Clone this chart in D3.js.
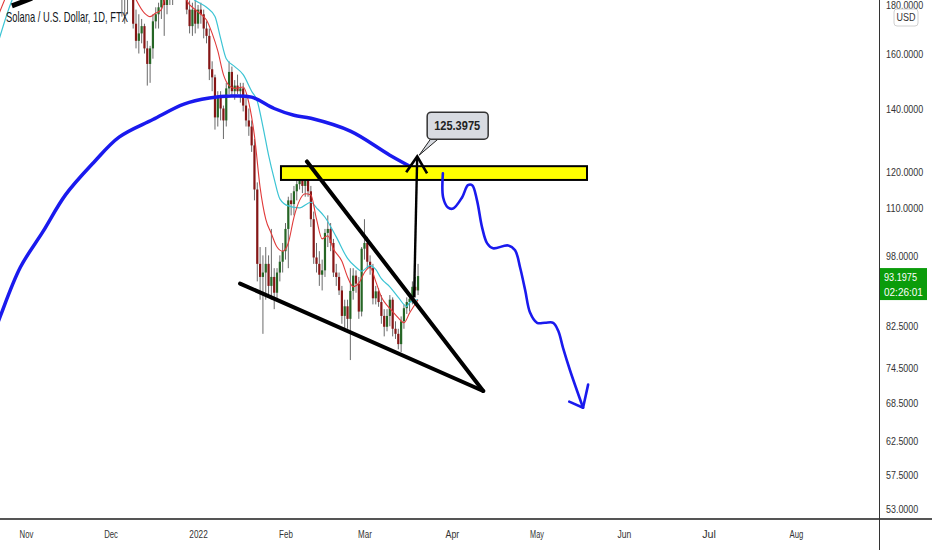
<!DOCTYPE html>
<html><head><meta charset="utf-8">
<script src="https://cdn.jsdelivr.net/npm/d3@7"></script>
<style>
html,body{margin:0;padding:0;background:#fff;}
svg{display:block;}
</style></head><body>
<svg id="c" width="932" height="550"></svg>
<script>
// ---------- DATA ----------
const title = "Solana / U.S. Dollar, 1D, FTX";
const currency = "USD";
const lastPrice = 93.1975;
const countdown = "02:26:01";
const priceTicks = [180, 160, 140, 120, 110, 98, 82.5, 74.5, 68.5, 62.5, 57.5, 53];
const monthTicks = ["2021-11-01","2021-12-01","2022-01-01","2022-02-01","2022-03-01","2022-04-01","2022-05-01","2022-06-01","2022-07-01","2022-08-01"];
const monthLabels = ["Nov","Dec","2022","Feb","Mar","Apr","May","Jun","Jul","Aug"];

const candleDates = [
"2021-12-01","2021-12-02","2021-12-03","2021-12-04","2021-12-05","2021-12-06","2021-12-07","2021-12-08","2021-12-09","2021-12-10",
"2021-12-11","2021-12-12","2021-12-13","2021-12-14","2021-12-15","2021-12-16","2021-12-17","2021-12-18","2021-12-19","2021-12-20",
"2021-12-21","2021-12-22","2021-12-23","2021-12-24","2021-12-25","2021-12-26","2021-12-27","2021-12-28","2021-12-29","2021-12-30",
"2021-12-31","2022-01-01","2022-01-02","2022-01-03","2022-01-04","2022-01-05","2022-01-06","2022-01-07","2022-01-08","2022-01-09",
"2022-01-10","2022-01-11","2022-01-12","2022-01-13","2022-01-14","2022-01-15","2022-01-16","2022-01-17","2022-01-18","2022-01-19",
"2022-01-20","2022-01-21","2022-01-22","2022-01-23","2022-01-24","2022-01-25","2022-01-26","2022-01-27","2022-01-28","2022-01-29",
"2022-01-30","2022-01-31","2022-02-01","2022-02-02","2022-02-03","2022-02-04","2022-02-05","2022-02-06","2022-02-07","2022-02-08",
"2022-02-09","2022-02-10","2022-02-11","2022-02-12","2022-02-13","2022-02-14","2022-02-15","2022-02-16","2022-02-17","2022-02-18",
"2022-02-19","2022-02-20","2022-02-21","2022-02-22","2022-02-23","2022-02-24","2022-02-25","2022-02-26","2022-02-27","2022-02-28",
"2022-03-01","2022-03-02","2022-03-03","2022-03-04","2022-03-05","2022-03-06","2022-03-07","2022-03-08","2022-03-09","2022-03-10",
"2022-03-11","2022-03-12","2022-03-13","2022-03-14","2022-03-15","2022-03-16","2022-03-17","2022-03-18","2022-03-19","2022-03-20"];
const opens = [
210,232,226,210,200,196,188,192,188,172, 165,168,171,162,156,162,173,176,179,183,
180,188,185,192,194,196,193,196,178,171, 178,172,178,176,170,167,154,151,137,144,
140,136,147,153,146,148,146,147,141,136, 134,128,115,96,93,94,96,91,93,89.5,
94,96.5,99,104.5,112,111,114.5,116.5,118,116, 120,114.5,107,97.5,96,93.5,94.5,103.5,104.5,101,
94,93,90,84.6,86.6,84,89.9,93.3,91.5,85.5, 99.6,101,96.5,95,88.3,89.8,87.5,84.6,82.4,84.6,
88,82,81,79,83.5,86.2,87.5,88.2,90.8,90];
const highs = [
238,240,231,214,204,198,194,200,192,178, 176,174,172,165,163,176,179,181,186,187,
190,194,195,198,199,200,204,197,182,181, 183,180,181,178,173,170,157,152,146,146,
141,149,157,155,150,152,149,149,144,140, 136,130,117,100,98,100,98,104.5,95,95,
98,101,106,113,114,116,118,119.5,121,122, 121,116,109,101,99,97,104.5,108,106,102,
96,94,91,88,88,95,95,94.5,93,100, 107,102.5,98,96,91,90.5,89,86,86,89,
88.5,83.5,82,84.5,87,88.5,89,92,93,96];
const lows = [
205,222,205,190,175,172,176,186,170,162, 160,164,160,148,149,158,170,170,174,167,
176,180,180,186,188,189,188,176,168,167, 168,170,172,166,164,150,146,133,134,136,
130,134,145,144,143,145,142,139,134,131, 126,112,92,88,81,88,89,88,86,88,
92,94,97,95,108,108,112,115,114,113, 113,105,96,94,91,90,93,100,99,93,
91,89,83,81.5,82,76,88,89.5,84,84.5, 97,95,93.5,87,87,86.5,83,80.5,81.5,82.5,
80.5,80,78,77.5,82,85,85.5,87,88.5,89];
const closes = [
232,226,210,200,196,188,192,188,172,165, 168,171,162,156,162,173,176,179,183,180,
188,185,192,194,196,193,196,178,171,178, 172,178,176,170,167,154,151,137,144,140,
136,147,153,146,148,146,147,141,136,134, 128,115,96,93,94,96,91,93,89.5,94,
96.5,99,104.5,112,111,114.5,116.5,118,116,120, 114.5,107,97.5,96,93.5,94.5,103.5,104.5,101,94,
93,90,84.6,86.6,84,89.9,93.3,91.5,85.5,99.6, 101,96.5,95,88.3,89.8,87.5,84.6,82.4,84.6,88,
82,81,79,83.5,86.2,87.5,88.2,90.8,90,93.1975];

// fast EMA (red)
const fastDates = ["2021-10-21","2021-10-25","2021-11-08","2021-11-25","2021-12-05","2021-12-09","2021-12-13","2021-12-15","2021-12-17","2021-12-19",
"2021-12-20","2021-12-23","2021-12-27","2021-12-28","2021-12-31","2022-01-02","2022-01-04","2022-01-06","2022-01-08","2022-01-10",
"2022-01-12","2022-01-14","2022-01-17","2022-01-19","2022-01-21","2022-01-23","2022-01-25","2022-01-27","2022-01-29","2022-01-31",
"2022-02-02","2022-02-04","2022-02-06","2022-02-08","2022-02-10","2022-02-12","2022-02-14","2022-02-16","2022-02-18","2022-02-21",
"2022-02-23","2022-02-25","2022-02-27","2022-03-01","2022-03-03","2022-03-05","2022-03-07","2022-03-09","2022-03-11","2022-03-13",
"2022-03-15","2022-03-17","2022-03-20"];
const fastValues = [172,184,225,215,198,185,176.5,175,176.5,178,
182,188,186,182,178,176,173.6,168,161,152,
148,147,147.5,142,131,115.6,107,103.3,100,99,
101,107.5,112,113.8,113.5,107,102,102.8,99.5,96.6,
93,90.8,91.6,94,95.2,92,88.6,86.8,85.5,84.2,
83.2,85.2,88];

// slow EMA (cyan)
const slowDates = ["2021-10-21","2021-10-27","2021-11-10","2021-11-25","2021-12-10","2021-12-20","2021-12-28","2021-12-31","2022-01-04","2022-01-07",
"2022-01-09","2022-01-11","2022-01-14","2022-01-17","2022-01-20","2022-01-22","2022-01-24","2022-01-26","2022-01-28","2022-01-30",
"2022-02-02","2022-02-06","2022-02-10","2022-02-12","2022-02-15","2022-02-19","2022-02-23","2022-02-26","2022-02-28","2022-03-03",
"2022-03-05","2022-03-07","2022-03-10","2022-03-13","2022-03-16","2022-03-17","2022-03-20"];
const slowValues = [160,182,205,212,200,190,185,182,179,175,
166,158,155,152,146,142.5,134,125,118,112.4,
110.5,110,111.5,110,107.5,102.5,97.3,95.2,94.3,95.6,
94.7,92.6,90.8,88.5,86.6,87.4,88];

// long moving average (thick blue)
const longDates = ["2021-10-20","2021-10-23","2021-10-30","2021-11-07","2021-11-15","2021-11-25","2021-12-04","2021-12-16","2021-12-27","2022-01-05",
"2022-01-13","2022-01-20","2022-01-28","2022-02-04","2022-02-10","2022-02-24","2022-03-10","2022-03-20"];
const longValues = [80,84.7,95.2,103.8,113.5,122.8,130.6,136.3,141.5,143.6,
144.3,143.9,140,137.7,136.7,132.5,125,120.4];

// drawings (x = days after 2021-11-01, y = price)
const zoneDays = [90.4, 198.9], zonePrices = [117.7, 121.7];
const wedgeUpperDays = [99.6, 162.1], wedgeUpperPrices = [123.1, 70.5];
const wedgeLowerDays = [75.9, 162.1], wedgeLowerPrices = [91.5, 70.5];
const arrowDays = [137.6, 138.7], arrowPrices = [88.5, 124.6];
const arrowHeadDays = [134.8, 138.7, 142.2], arrowHeadPrices = [119.9, 124.6, 119.6];
const calloutDay = 139.4, calloutPrice = 125.0, calloutText = "125.3975";
const projDays = [147.8,147.9,149.6,151.4,154.6,156.7,158.2,159.9,161.7,163.5,165.6,170.9,173.4,175.2,177,178.7,181.2,184,186.9,188.7,190.4,192.9,195.4,197.5];
const projPrices = [119.6,112.8,110.1,109.8,112.8,116.2,116.2,112.0,104.9,100.9,99.7,100.4,99.2,95.1,90.0,85.3,83.2,83.2,83.2,81.6,78.3,74.1,70.5,67.7];
const projHeadDays = [192.6,197.5,199.3], projHeadPrices = [68.7,67.7,71.6];
const cornerDays = [-5, 2.1], cornerPrices = [179.6, 183];

// ---------- CHART ----------
const W = 932, H = 550, axisX = 879, axisY = 519;
const FONT = "'Liberation Sans Narrow','Liberation Sans',Arial,sans-serif";
const svg = d3.select("#c");
svg.append("rect").attr("width",W).attr("height",H).attr("fill","#fff");

// squeeze a text horizontally to a target width (keeps its anchor point)
function fit(sel, target){
  sel.each(function(){
    const n = this, w = n.getComputedTextLength();
    if (!w) return;
    const s = Math.min(1, target / w);
    const ax = +n.getAttribute("x") || 0;
    n.setAttribute("transform", `translate(${ax},0) scale(${s},1) translate(${-ax},0)`);
  });
}

const t0 = Date.UTC(2021,10,1);
const x = d3.scaleUtc().domain([new Date(t0), new Date(Date.UTC(2022,7,1))]).range([26,796]);
const y = d3.scaleLog().domain([53,180]).range([508.5,5]);
const pd = s => d3.isoParse(s);
const dx = d => x(new Date(t0 + d*864e5));

svg.append("defs").append("clipPath").attr("id","plot")
  .append("rect").attr("x",0).attr("y",0).attr("width",axisX).attr("height",axisY);
const plot = svg.append("g").attr("clip-path","url(#plot)");

// candles
const candles = candleDates.map((d,i)=>({t:pd(d),o:opens[i],h:highs[i],l:lows[i],c:closes[i]}));
const cg = plot.append("g");
cg.selectAll("line.w").data(candles).join("line")
  .attr("x1",d=>x(d.t)).attr("x2",d=>x(d.t))
  .attr("y1",d=>y(d.h)).attr("y2",d=>y(d.l))
  .attr("stroke","#6a6a6a").attr("stroke-width",1);
cg.selectAll("rect.b").data(candles).join("rect")
  .attr("x",d=>x(d.t)-1.1).attr("width",2.2)
  .attr("y",d=>y(Math.max(d.o,d.c)))
  .attr("height",d=>Math.max(1,Math.abs(y(d.o)-y(d.c))))
  .attr("fill",d=>d.c>=d.o?"#256625":"#861616");

// indicator lines
const lineT = d3.line().x(d=>x(d[0])).y(d=>y(d[1])).curve(d3.curveMonotoneX);
plot.append("path").datum(slowDates.map((d,i)=>[pd(d),slowValues[i]]))
  .attr("d",lineT).attr("fill","none").attr("stroke","#3cc4d4").attr("stroke-width",1.2);
plot.append("path").datum(fastDates.map((d,i)=>[pd(d),fastValues[i]]))
  .attr("d",lineT).attr("fill","none").attr("stroke","#e03a3a").attr("stroke-width",1.1);
plot.append("path").datum(longDates.map((d,i)=>[pd(d),longValues[i]]))
  .attr("d",lineT.curve(d3.curveCatmullRom)).attr("fill","none").attr("stroke","#1a1aee").attr("stroke-width",3.5)
  .attr("stroke-linecap","round");

// drawings
const dl = d3.line().x(d=>dx(d[0])).y(d=>y(d[1]));
plot.append("rect")
  .attr("x",dx(zoneDays[0])).attr("width",dx(zoneDays[1])-dx(zoneDays[0]))
  .attr("y",y(zonePrices[1])).attr("height",y(zonePrices[0])-y(zonePrices[1]))
  .attr("fill","#ffff00").attr("stroke","#000").attr("stroke-width",2);
[[wedgeUpperDays,wedgeUpperPrices],[wedgeLowerDays,wedgeLowerPrices]].forEach(([ds,ps])=>{
  plot.append("path").attr("d",dl(ds.map((d,i)=>[d,ps[i]])))
    .attr("fill","none").attr("stroke","#000").attr("stroke-width",4).attr("stroke-linecap","round");
});
plot.append("path").attr("d",dl(arrowDays.map((d,i)=>[d,arrowPrices[i]])))
  .attr("fill","none").attr("stroke","#000").attr("stroke-width",2.4);
plot.append("path").attr("d",dl(arrowHeadDays.map((d,i)=>[d,arrowHeadPrices[i]])))
  .attr("fill","none").attr("stroke","#000").attr("stroke-width",2.6).attr("stroke-linejoin","miter");
plot.append("path").attr("d",dl.curve(d3.curveCatmullRom)(projDays.map((d,i)=>[d,projPrices[i]])))
  .attr("fill","none").attr("stroke","#1a1aee").attr("stroke-width",2.6).attr("stroke-linecap","round");
plot.append("path").attr("d",d3.line().x(d=>dx(d[0])).y(d=>y(d[1]))(projHeadDays.map((d,i)=>[d,projHeadPrices[i]])))
  .attr("fill","none").attr("stroke","#1a1aee").attr("stroke-width",2.6).attr("stroke-linecap","round").attr("stroke-linejoin","round");
plot.append("path").attr("d",d3.line().x(d=>dx(d[0])).y(d=>y(d[1]))(cornerDays.map((d,i)=>[d,cornerPrices[i]])))
  .attr("stroke","#000").attr("stroke-width",5);

// callout
const tx = dx(calloutDay), ty = y(calloutPrice);
const cb = plot.append("g");
cb.append("path").attr("d",`M${tx+12},${ty-17} L${tx+20},${ty-17} L${tx},${ty} Z`)
  .attr("fill","#d8dbe1").attr("stroke","#222").attr("stroke-width",1);
cb.append("rect").attr("x",tx+8).attr("y",ty-43).attr("width",61).attr("height",27).attr("rx",4)
  .attr("fill","#d8dbe1").attr("stroke","#333").attr("stroke-width",1.5);
cb.append("text").attr("x",tx+15).attr("y",ty-25)
  .attr("font-family",FONT).attr("font-size",13).attr("font-weight","bold").attr("fill","#222")
  .text(calloutText).call(fit,46);

// axes lines
svg.append("line").attr("x1",0).attr("x2",W).attr("y1",axisY).attr("y2",axisY).attr("stroke","#555").attr("stroke-width",2);
svg.append("line").attr("x1",axisX+0.5).attr("x2",axisX+0.5).attr("y1",0).attr("y2",H).attr("stroke","#333").attr("stroke-width",1);

// price axis
const fmt = d3.format(".4f");
const yAxis = d3.axisRight(y).tickValues(priceTicks).tickSize(0).tickPadding(7).tickFormat(fmt);
const ya = svg.append("g").attr("transform",`translate(${axisX},0)`).call(yAxis);
ya.select(".domain").remove();
ya.selectAll("text").attr("font-family",FONT).attr("font-size",11.5).attr("fill","#333")
  .each(function(d){ fit(d3.select(this), (fmt(d).length-1)*5.0+2.3); });

// time axis
const xAxis = d3.axisBottom(x).tickValues(monthTicks.map(pd)).tickSize(0).tickPadding(11)
  .tickFormat((d,i)=>monthLabels[i]);
const xa = svg.append("g").attr("transform",`translate(0,${axisY})`).call(xAxis);
xa.select(".domain").remove();
xa.selectAll("text").attr("font-family",FONT).attr("font-size",11.5).attr("fill","#333")
  .each(function(){ const t=d3.select(this); const w=this.getComputedTextLength();
    t.attr("transform",`scale(${Math.min(1,(this.textContent.length*4.6)/w)},1)`); });

// USD badge
svg.append("rect").attr("x",894).attr("y",9).attr("width",24).attr("height",17).attr("rx",3)
  .attr("fill","#fff").attr("stroke","#d0d0d0");
svg.append("text").attr("x",896.5).attr("y",21.5).attr("font-family",FONT)
  .attr("font-size",10).attr("fill","#333").text(currency).call(fit,19);

// last price label
const ly = y(lastPrice);
svg.append("rect").attr("x",axisX+1).attr("y",ly-8).attr("width",47).attr("height",32).attr("fill","#0b9c0b");
svg.append("text").attr("x",axisX+5).attr("y",ly+4.5).attr("font-family",FONT).attr("font-size",11.5).attr("fill","#fff")
  .text(fmt(lastPrice)).call(fit,33);
svg.append("text").attr("x",axisX+5).attr("y",ly+19.5).attr("font-family",FONT).attr("font-size",11.5).attr("fill","#fff")
  .text(countdown).call(fit,39);

// title
svg.append("text").attr("x",6).attr("y",22.5).attr("font-family",FONT).attr("font-size",14).attr("fill","#131722")
  .text(title).call(fit,122);
</script>
</body></html>
